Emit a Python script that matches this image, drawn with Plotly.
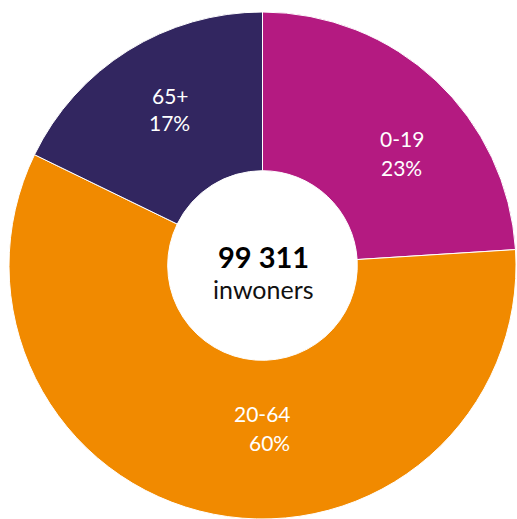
import plotly.graph_objects as go

categories = ["0-19", "20-64", "65+"]
shares = [24.0, 58.2, 17.8]          # slice sizes
pct_labels = ["23%", "60%", "17%"]    # printed labels
colors = ["#B41A81", "#F18A00", "#322660"]
total_label = "99 311"
total_sub = "inwoners"

FONT = "Lato"
W, H = 517, 519

fig = go.Figure()
fig.add_trace(go.Pie(
    labels=categories,
    values=shares,
    sort=False,
    direction="clockwise",
    rotation=0,
    hole=0.374,
    marker=dict(colors=colors, line=dict(color="white", width=1)),
    textinfo="none",
    hoverinfo="label+percent",
    showlegend=False,
    domain=dict(x=[8/517, 1.0], y=[0.0, 507/519]),
))

# slice labels (two lines each), page pixel positions
label_pos = {
    "0-19": ((402, 138), (401, 167)),
    "20-64": ((262, 413), (269, 442)),
    "65+": ((170, 95), (169, 123)),
}

def px(x, y):
    return x / W, 1 - y / H

for cat, pct in zip(categories, pct_labels):
    (x1, y1), (x2, y2) = label_pos[cat]
    for txt, (x, y) in ((cat, (x1, y1)), (pct, (x2, y2))):
        ax, ay = px(x, y)
        fig.add_annotation(
            x=ax, y=ay, xref="paper", yref="paper",
            text=txt, showarrow=False,
            font=dict(family=FONT, size=21, color="white"),
            xanchor="center", yanchor="middle",
        )

ax, ay = px(263, 256)
fig.add_annotation(
    x=ax, y=ay, xref="paper", yref="paper",
    text="<b>" + total_label + "</b>", showarrow=False,
    font=dict(family=FONT, size=29, color="black"),
    xanchor="center", yanchor="middle",
)
ax, ay = px(263, 289)
fig.add_annotation(
    x=ax, y=ay, xref="paper", yref="paper",
    text=total_sub, showarrow=False,
    font=dict(family=FONT, size=25, color="#111111"),
    xanchor="center", yanchor="middle",
)

fig.update_layout(
    width=W, height=H,
    margin=dict(l=0, r=0, t=0, b=0),
    paper_bgcolor="white",
    plot_bgcolor="white",
)

fig.write_html(
    "out.html",
    config={"displayModeBar": False},
    post_script="document.body.style.margin='0';document.body.style.overflow='hidden';",
)
